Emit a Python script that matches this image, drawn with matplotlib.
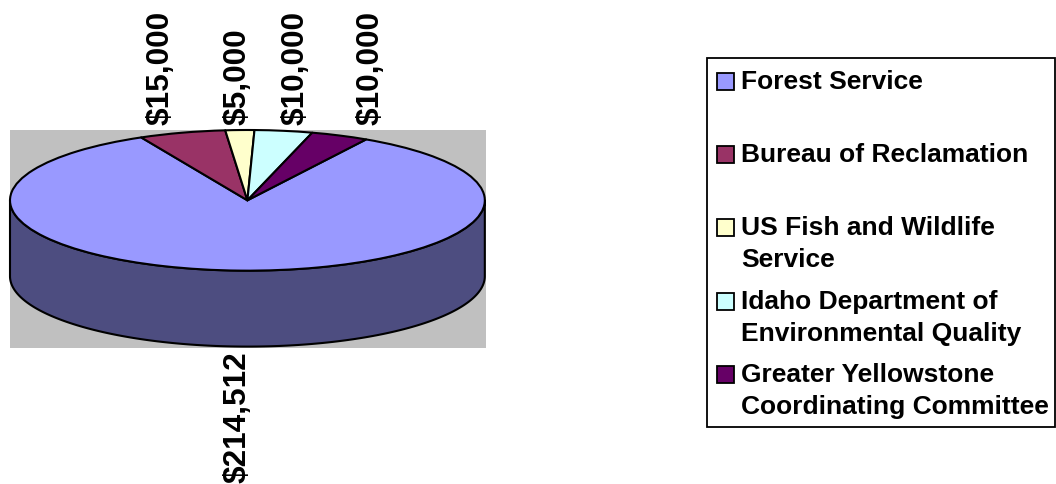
import numpy as np
import matplotlib
matplotlib.use("Agg")
import matplotlib.pyplot as plt
from matplotlib.patches import Polygon, Rectangle

# ---- data ----
agencies = ["Forest Service", "Bureau of Reclamation", "US Fish and Wildlife\nService",
            "Idaho Department of\nEnvironmental Quality",
            "Greater Yellowstone\nCoordinating Committee"]
amounts = [214512, 15000, 5000, 10000, 10000]
labels = ["$214,512", "$15,000", "$5,000", "$10,000", "$10,000"]
top_colors = ["#9999FF", "#993366", "#FFFFCC", "#CCFFFF", "#660066"]
side_colors = ["#4D4D80", "#4D1A33", "#808066", "#668080", "#330033"]

plt.rcParams['font.family'] = ['Liberation Sans', 'DejaVu Sans']

W, H = 1056, 485
fig = plt.figure(figsize=(W / 100, H / 100), dpi=100)

# plot area in pixels
px_l, px_r, px_t, px_b = 10, 486, 131, 349
ax = fig.add_axes([px_l / W, 1 - px_b / H, (px_r - px_l) / W, (px_b - px_t) / H])
ax.set_facecolor("#C0C0C0")
for s in ax.spines.values():
    s.set_visible(False)

depth = 1.08
first_angle = 30.0  # degrees clockwise from 12 o'clock

vals = np.array(amounts, dtype=float)
fracs = vals / vals.sum()
starts = first_angle + 360 * np.concatenate([[0], np.cumsum(fracs)[:-1]])
ends = starts + 360 * fracs

lw = 1.5
# side walls (visible front half: 90..270 deg clockwise from top)
for st, en, sc in zip(starts, ends, side_colors):
    for off in (0, 360, -360):
        a0 = max(st + off, 90)
        a1 = min(en + off, 270)
        if a1 > a0:
            t = np.radians(np.linspace(a0, a1, 200))
            xs = np.sin(t)
            ys = np.cos(t)
            pts = np.vstack([np.column_stack([xs, ys]),
                             np.column_stack([xs[::-1], ys[::-1] - depth])])
            ax.add_patch(Polygon(pts, closed=True, facecolor=sc, edgecolor="black",
                                 linewidth=lw, joinstyle="round", clip_on=False))

# top face
wedges, _ = ax.pie(amounts, colors=top_colors, startangle=90 - first_angle,
                   counterclock=False, radius=1, center=(0, 0), frame=True,
                   wedgeprops=dict(edgecolor="black", linewidth=lw, joinstyle="round"))
for w in wedges:
    w.set_clip_on(False)

ax.set_aspect("auto")
ax.set_xlim(-1.0, 1.005)
ax.set_ylim(-1 - depth - 0.02, 1.0)
ax.set_xticks([])
ax.set_yticks([])

# data labels
mids = np.radians((starts + ends) / 2)
for lab, m in zip(labels, mids):
    x = 1.33 * np.sin(m)
    if np.cos(m) >= 0:
        ax.text(x, 1.08, lab, rotation=90, ha="center", va="bottom",
                fontsize=22.7, fontweight="bold", clip_on=False)
    else:
        ax.text(x, -1 - depth - 0.06, lab, rotation=90, ha="center", va="top",
                fontsize=22.7, fontweight="bold", clip_on=False)

# legend (manual, Excel-like)
lax = fig.add_axes([0, 0, 1, 1], facecolor="none")
lax.set_xlim(0, W)
lax.set_ylim(H, 0)
lax.axis("off")
lax.add_patch(Rectangle((707, 59), 1055 - 707, 428 - 59, facecolor="white",
                        edgecolor="black", linewidth=1.3, zorder=0))
entry_y = [82, 155, 228, 302, 375]
line_gap = 32.5
for name, col, y in zip(agencies, top_colors, entry_y):
    lax.add_patch(Rectangle((717, y - 8.5), 17, 17, facecolor=col,
                            edgecolor="black", linewidth=1.3))
    for i, ln in enumerate(name.split("\n")):
        lax.text(741, y + i * line_gap, ln, ha="left", va="center",
                 fontsize=19, fontweight="bold")

fig.savefig("out.png", dpi=100)
